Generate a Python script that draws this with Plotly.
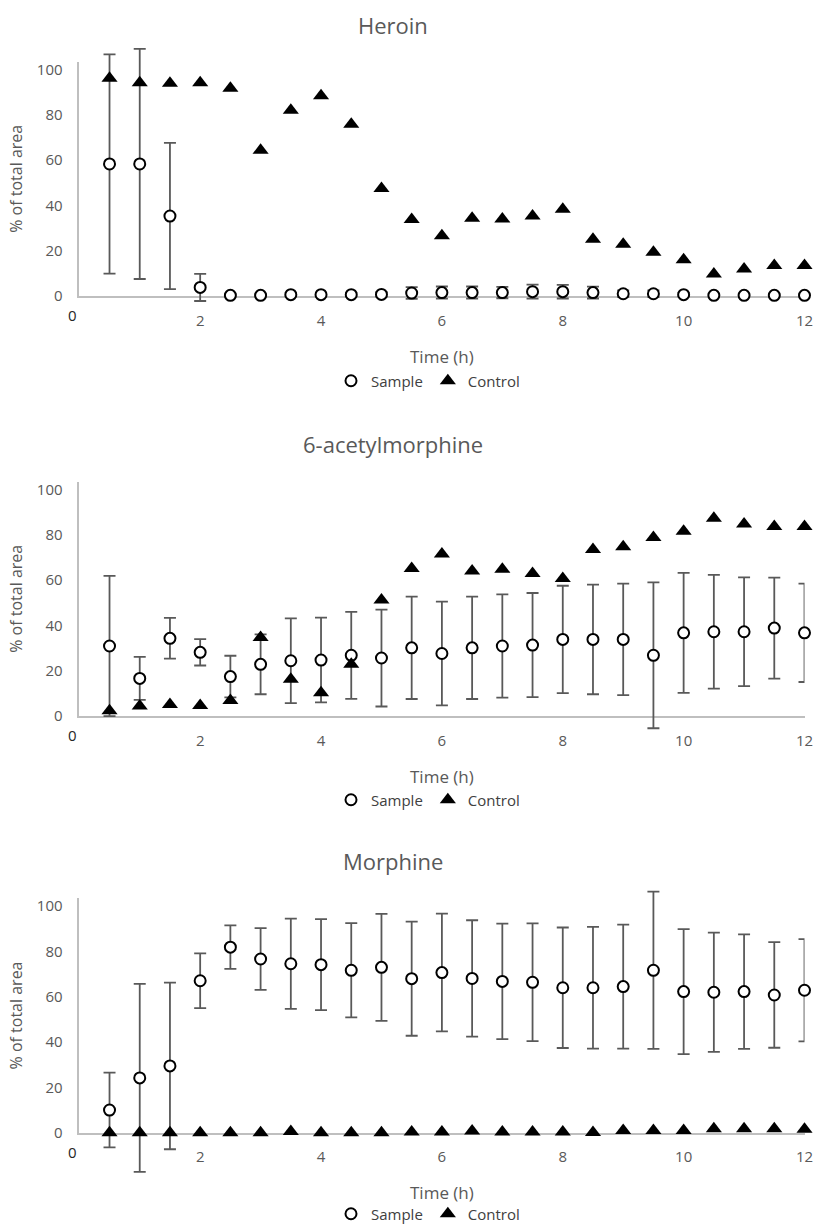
import plotly.graph_objects as go

# ---------------- data ----------------
time_h = [0.5, 1, 1.5, 2, 2.5, 3, 3.5, 4, 4.5, 5, 5.5, 6, 6.5, 7, 7.5, 8,
          8.5, 9, 9.5, 10, 10.5, 11, 11.5, 12]

heroin_sample = [58.3, 58.3, 35.3, 3.8, 0.3, 0.3, 0.6, 0.6, 0.6, 0.7, 1.3, 1.5,
                 1.5, 1.5, 1.9, 1.9, 1.5, 1.0, 1.0, 0.6, 0.3, 0.3, 0.3, 0.3]
heroin_sample_err = [48.4, 50.8, 32.3, 6.0, 0.5, 0.5, 0.8, 0.8, 0.8, 1.0, 2.6, 2.7,
                     2.7, 2.5, 3.1, 3.0, 2.6, 1.5, 1.5, 0.8, 0.5, 0.5, 0.5, 0.5]
heroin_control = [96.1, 94.2, 93.9, 94.2, 91.7, 64.3, 82.0, 88.4, 75.8, 47.5, 33.8, 26.6,
                  34.3, 34.0, 35.3, 38.3, 25.0, 22.8, 19.3, 16.0, 9.7, 11.9, 13.5, 13.5]

am_sample = [30.9, 16.6, 34.3, 28.1, 17.4, 22.8, 24.4, 24.7, 26.8, 25.6, 30.1, 27.6,
             30.1, 30.9, 31.3, 33.8, 33.8, 33.8, 26.8, 36.7, 37.2, 37.2, 38.8, 36.7]
am_sample_err = [31.0, 9.5, 9.0, 5.8, 9.2, 13.2, 18.7, 18.7, 19.2, 21.4, 22.6, 22.9,
                 22.6, 22.8, 23.0, 23.7, 24.2, 24.6, 32.2, 26.5, 25.1, 24.0, 22.3, 21.7]
am_control = [2.3, 4.4, 5.1, 4.6, 6.8, 34.7, 16.2, 10.3, 22.8, 51.2, 65.1, 71.5,
              64.0, 64.8, 62.9, 60.7, 73.5, 74.7, 78.8, 81.6, 87.3, 84.8, 83.7, 83.7]

mor_sample = [10.0, 24.2, 29.5, 67.1, 81.9, 76.7, 74.6, 74.2, 71.7, 73.0, 68.0, 70.7,
              68.1, 66.8, 66.4, 64.0, 64.0, 64.5, 71.7, 62.3, 62.0, 62.3, 60.8, 62.9]
mor_sample_err = [16.5, 41.5, 36.8, 12.1, 9.6, 13.6, 19.9, 20.1, 20.8, 23.6, 25.2, 26.0,
                  25.7, 25.5, 26.0, 26.6, 26.9, 27.4, 34.7, 27.6, 26.3, 25.3, 23.3, 22.6]
mor_control = [0.0, 0.0, 0.0, 0.0, 0.0, 0.0, 0.5, 0.0, 0.0, 0.0, 0.3, 0.3,
               0.7, 0.3, 0.3, 0.3, 0.1, 1.0, 1.0, 1.0, 1.7, 1.7, 1.7, 1.5]

titles = ["Heroin", "6-acetylmorphine", "Morphine"]
x_tickvals = [2, 4, 6, 8, 10, 12]
y_tickvals = [0, 20, 40, 60, 80, 100]
x_title = "Time (h)"
y_title = "% of total area"
series_names = ["Sample", "Control"]

panels = [
    (heroin_sample, heroin_sample_err, heroin_control),
    (am_sample, am_sample_err, am_control),
    (mor_sample, mor_sample_err, mor_control),
]

# ---------------- layout geometry (pixels) ----------------
W, H = 816, 1226
FONT = "Open Sans"
GRAY = "#595959"
AXIS_GRAY = "#bfbfbf"
px_per_unit = 2.265
y_max = 103.5
pad_below, pad_above = 48, 22      # room for error bars outside the axes
zero_px = [296, 716, 1132.7]        # pixel row of y = 0 in each panel
title_px = [25, 444, 861]
legend_px = [381, 800, 1214]
x0_px, x12_px = 79.3, 804.5


def py(p):
    return (H - p) / H


def pxx(p):
    return p / W


fig = go.Figure()
layout = dict(
    width=W, height=H,
    margin=dict(l=0, r=0, t=0, b=0, autoexpand=False),
    paper_bgcolor="white", plot_bgcolor="rgba(0,0,0,0)",
    font=dict(family=FONT, color=GRAY, size=15),
    annotations=[],
)

for i, (samp, serr, ctrl) in enumerate(panels):
    n = "" if i == 0 else str(i + 1)
    xa, ya = "x" + n, "y" + n
    yd = "y" + str(i + 4)           # hidden data axis with the same scale
    leg = "legend" + n
    # empty trace so the visible axes subplot exists
    fig.add_trace(go.Scatter(x=[None], y=[None], xaxis=xa, yaxis=ya,
                             showlegend=False, hoverinfo="skip", mode="markers"))
    fig.add_trace(go.Scatter(
        x=time_h, y=samp, mode="markers", name=series_names[0],
        xaxis=xa, yaxis=yd, legend=leg, cliponaxis=False,
        marker=dict(symbol="circle", size=11, color="white",
                    line=dict(color="black", width=2)),
        error_y=dict(type="data", array=serr, visible=True,
                     color=GRAY, thickness=1.8, width=6),
    ))
    fig.add_trace(go.Scatter(
        x=time_h, y=ctrl, mode="markers", name=series_names[1],
        xaxis=xa, yaxis=yd, legend=leg, cliponaxis=False,
        marker=dict(symbol="triangle-up", size=14, color="black"),
    ))

    top = zero_px[i] - y_max * px_per_unit
    layout["xaxis" + n] = dict(
        domain=[pxx(x0_px), pxx(x12_px)], range=[0, 12], anchor=ya,
        tickvals=x_tickvals, ticks="", ticklabelstandoff=10,
        showgrid=False, zeroline=False, showline=True, automargin=False,
        linecolor=AXIS_GRAY, linewidth=1.5,
        tickfont=dict(size=15, color=GRAY),
        title=dict(text=x_title, font=dict(size=17, color=GRAY), standoff=22),
    )
    layout["yaxis" + n] = dict(
        domain=[py(zero_px[i]), py(top)], range=[0, y_max], anchor=xa,
        tickvals=y_tickvals, ticks="", ticklabelstandoff=12,
        showgrid=False, zeroline=False, showline=True, automargin=False,
        linecolor=AXIS_GRAY, linewidth=1.5,
        tickfont=dict(size=15, color=GRAY),
        title=dict(text=y_title, font=dict(size=16, color=GRAY), standoff=10),
    )
    layout["yaxis" + str(i + 4)] = dict(
        domain=[py(zero_px[i] + pad_below), py(top - pad_above)],
        range=[-pad_below / px_per_unit, y_max + pad_above / px_per_unit],
        anchor=xa, visible=False, showgrid=False, zeroline=False,
        automargin=False,
    )
    layout[leg] = dict(
        orientation="h", x=pxx(428), xanchor="center",
        y=py(legend_px[i]), yanchor="middle",
        font=dict(size=15, color="#404040"), bgcolor="rgba(0,0,0,0)",
        itemwidth=30, tracegroupgap=0,
    )
    layout["annotations"].append(dict(
        text=titles[i], xref="paper", yref="paper",
        x=pxx(393), y=py(title_px[i]), xanchor="center", yanchor="middle",
        showarrow=False, font=dict(size=22, color=GRAY, family=FONT),
    ))
    layout["annotations"].append(dict(
        text="0", xref="paper", yref="paper",
        x=pxx(72.7), y=py(zero_px[i] + 19), xanchor="center", yanchor="middle",
        showarrow=False, font=dict(size=15, color="#262626", family=FONT),
    ))

fig.update_layout(**layout)
fig.write_html("out.html", config={"displayModeBar": False},
               post_script="document.body.style.margin='0px';")
